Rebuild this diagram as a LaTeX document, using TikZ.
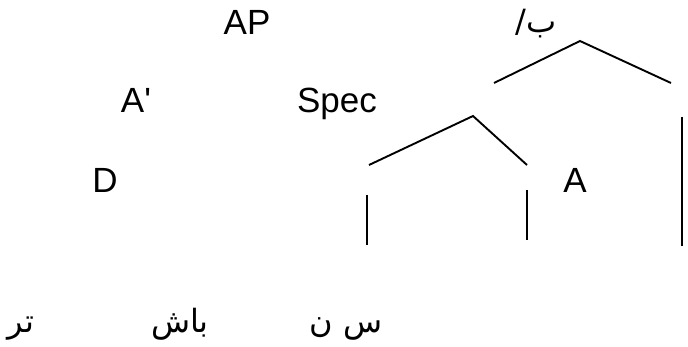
\documentclass[tikz,border=0pt]{standalone}
\usepackage{fontspec}
\setmainfont{Liberation Sans}
\newfontfamily\arabicfont[Script=Arabic]{DejaVu Sans}
\TeXXeTstate=1
\begin{document}
\begin{tikzpicture}[x=1pt,y=-1pt,
  lbl/.style={anchor=base,inner sep=0pt,font=\fontsize{35}{40}\selectfont},
  ar/.style={anchor=base,inner sep=0pt,font=\fontsize{32}{38}\selectfont\arabicfont},
  br/.style={line width=1.9pt,line cap=butt}]
\useasboundingbox (0,0) rectangle (688,347);
\node[lbl] (ap) at (247,35) {AP};
\node[lbl] (abar) at (136,113) {A\textquotesingle};
\node[lbl] (spec) at (337,113) {Spec};
\node[lbl] (d) at (105,193) {D};
\node[lbl] (a) at (575,193) {A};
\node[ar] (b) at (536,33) {\beginR ب/\endR};
\node[ar] (w1) at (21,333) {\beginR تر\endR};
\node[ar] (w2) at (180,333) {\beginR باش\endR};
\node[ar] (w3) at (346,333) {\beginR س ن\endR};
% upper right branch
\coordinate (t1) at (580,41);
\coordinate (t1l) at (494,83);
\coordinate (t1r) at (671,83);
\draw[br] (t1l) -- (t1) -- (t1r);
% middle branch
\coordinate (t2) at (473,116);
\coordinate (t2l) at (369,165);
\coordinate (t2r) at (527,165);
\draw[br] (t2l) -- (t2) -- (t2r);
% vertical lines
\coordinate (v1a) at (367,195);
\coordinate (v1b) at (367,245);
\coordinate (v2a) at (527,190);
\coordinate (v2b) at (527,240);
\coordinate (v3a) at (682,117);
\coordinate (v3b) at (682,246);
\draw[br] (v1a) -- (v1b);
\draw[br] (v2a) -- (v2b);
\draw[br] (v3a) -- (v3b);
\end{tikzpicture}
\end{document}
